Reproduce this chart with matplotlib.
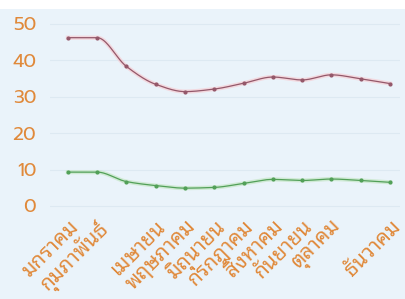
import matplotlib
matplotlib.use("Agg")
import matplotlib.pyplot as plt
import numpy as np
from matplotlib.patches import Rectangle

months = ['มกราคม', 'กุมภาพันธ์', 'มีนาคม', 'เมษายน', 'พฤษภาคม', 'มิถุนายน',
          'กรกฎาคม', 'สิงหาคม', 'กันยายน', 'ตุลาคม', 'พฤศจิกายน', 'ธันวาคม']
# labels the reference leaves out (overlap skipping)
hidden = ['มีนาคม', 'พฤศจิกายน']
series_red = [46.2, 46.2, 38.3, 33.4, 31.4, 32.1, 33.7, 35.4, 34.6, 36.0, 34.9, 33.6]
series_green = [9.3, 9.3, 6.7, 5.6, 4.9, 5.1, 6.2, 7.3, 7.0, 7.4, 7.0, 6.5]
y_ticks = [0, 10, 20, 30, 40, 50]

bg = '#eaf3fa'
orange = '#e0893a'
num_font = ['Prompt', 'DejaVu Sans']
thai_font = ['Noto Sans Thai Looped', 'Prompt', 'DejaVu Sans']


def pchip(x, y, xs):
    """monotone cubic for a smooth line through the points"""
    x = np.asarray(x, float)
    y = np.asarray(y, float)
    h = np.diff(x)
    d = np.diff(y) / h
    m = np.zeros_like(y)
    for k in range(1, len(y) - 1):
        if d[k - 1] * d[k] > 0:
            w1 = 2 * h[k] + h[k - 1]
            w2 = h[k] + 2 * h[k - 1]
            m[k] = (w1 + w2) / (w1 / d[k - 1] + w2 / d[k])
    m[0] = d[0]
    m[-1] = d[-1]
    idx = np.clip(np.searchsorted(x, xs) - 1, 0, len(x) - 2)
    t = (xs - x[idx]) / h[idx]
    h00 = 2 * t**3 - 3 * t**2 + 1
    h10 = t**3 - 2 * t**2 + t
    h01 = -2 * t**3 + 3 * t**2
    h11 = t**3 - t**2
    return h00 * y[idx] + h10 * h[idx] * m[idx] + h01 * y[idx + 1] + h11 * h[idx] * m[idx + 1]


fig = plt.figure(figsize=(4.05, 2.99), dpi=100, facecolor=bg)
# white strip along the top edge
fig.patches.append(Rectangle((0, 0.97), 1, 0.03, transform=fig.transFigure,
                             facecolor='white', edgecolor='none', zorder=-1))
ax = fig.add_axes([50 / 405, 1 - 214 / 299, 350 / 405, 204 / 299])
ax.set_facecolor(bg)

x = np.arange(len(months))
xs = np.linspace(0, len(months) - 1, 400)

for vals, col, glow in [(series_red, '#94586a', '#f6cdd3'), (series_green, '#52a058', '#c4e6c5')]:
    ys = pchip(x, vals, xs)
    ax.plot(xs, ys, color=glow, lw=3.0, alpha=0.7, zorder=2)
    ax.plot(xs, ys, color=col, lw=0.9, zorder=3)
    ax.plot(x, vals, 'o', color=col, ms=2.0, zorder=4)

ax.set_xlim(-0.61, 11.34)
ax.set_ylim(-2.2, 53.8)
ax.set_yticks(y_ticks)
ax.set_xticks(x)
ax.set_xticklabels(['' if m in hidden else m for m in months],
                   rotation=45, ha='right', va='top', rotation_mode='anchor',
                   color=orange, fontsize=15, family=thai_font, weight='medium')
for lab in ax.get_yticklabels():
    lab.set_family(num_font)
ax.tick_params(axis='y', colors=orange, labelsize=13.5, length=0, pad=10)
ax.tick_params(axis='x', length=0, pad=1.5)
ax.grid(True, axis='y', color='#dde9f2', lw=0.8)
ax.set_axisbelow(True)
for s in ax.spines.values():
    s.set_visible(False)

fig.savefig('out.png', dpi=100, facecolor=bg)
